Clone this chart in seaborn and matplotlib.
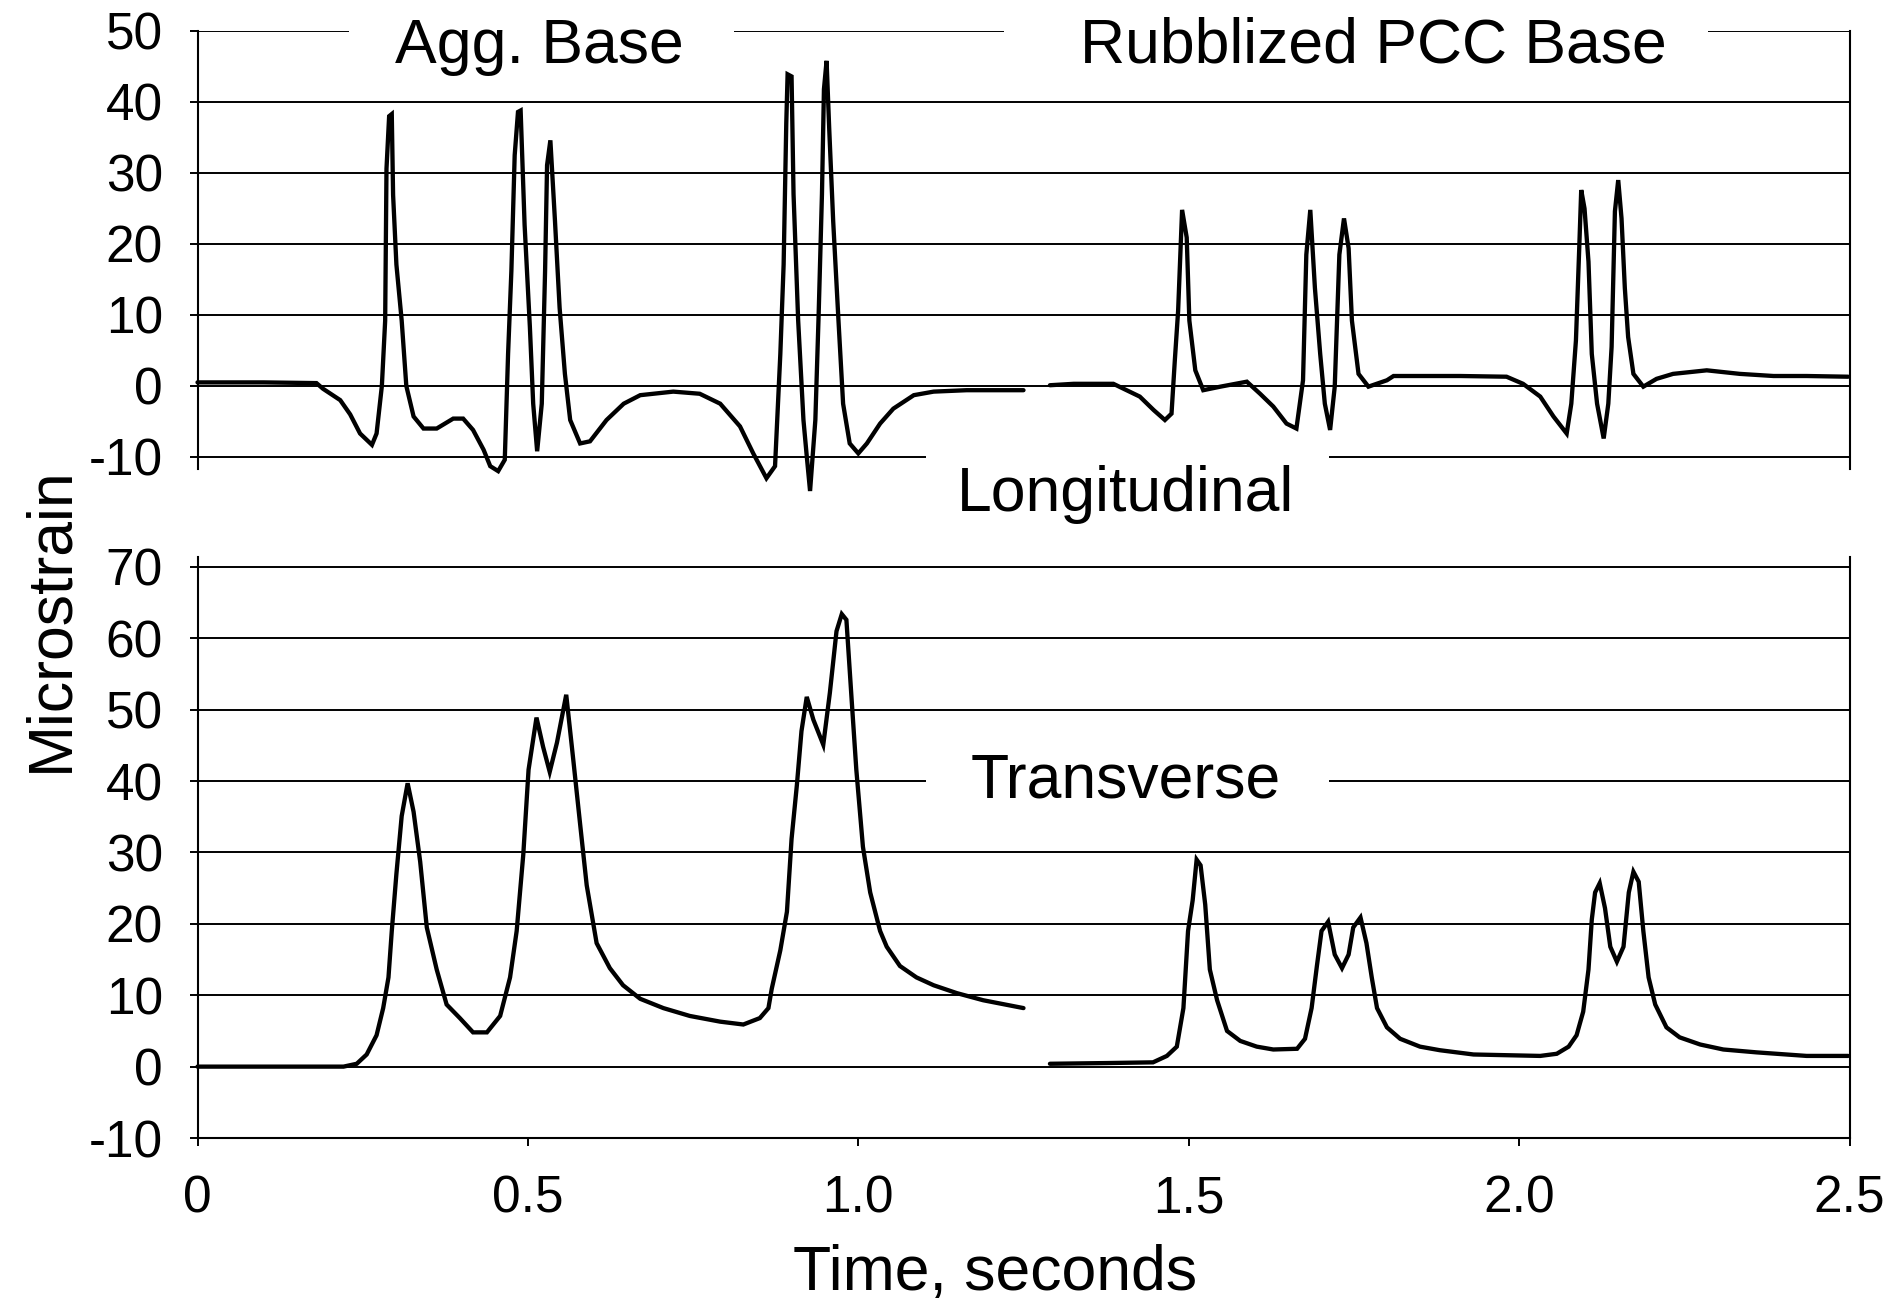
import matplotlib
matplotlib.use("Agg")
import matplotlib.pyplot as plt
import seaborn as sns
import pandas as pd
from matplotlib.patches import Rectangle

# ---------------- data ----------------
# Longitudinal strain, aggregate base section
agg_long_t = [0.00, 0.10, 0.18, 0.19, 0.216, 0.231, 0.246, 0.264, 0.271, 0.279, 0.284, 0.286,
              0.290, 0.294, 0.296, 0.301, 0.309, 0.316, 0.327, 0.342, 0.362, 0.387, 0.402, 0.417,
              0.433, 0.443, 0.455, 0.465, 0.470, 0.475, 0.480, 0.485, 0.489, 0.495, 0.503, 0.508,
              0.514, 0.521, 0.526, 0.529, 0.534, 0.541, 0.548, 0.556, 0.564, 0.579, 0.594, 0.619,
              0.645, 0.670, 0.720, 0.760, 0.791, 0.821, 0.841, 0.861, 0.874, 0.882, 0.887, 0.891,
              0.893, 0.899, 0.902, 0.909, 0.917, 0.922, 0.927, 0.935, 0.940, 0.945, 0.948, 0.952,
              0.956, 0.962, 0.970, 0.977, 0.987, 1.000, 1.013, 1.033, 1.053, 1.084, 1.114, 1.164,
              1.250]
agg_long_v = [0.5, 0.5, 0.4, -0.4, -2.0, -4.0, -6.7, -8.3, -6.7, 0.0, 9.2, 30.6,
              38.0, 38.3, 26.9, 17.1, 9.2, 0.0, -4.3, -6.0, -6.0, -4.6, -4.6, -6.2,
              -9.0, -11.3, -12.0, -10.4, 4.5, 16.2, 32.5, 38.6, 38.8, 22.7, 8.3, -2.5,
              -9.2, -2.5, 16.2, 31.1, 34.6, 23.2, 11.0, 1.7, -4.8, -8.1, -7.8, -4.8,
              -2.5, -1.3, -0.8, -1.1, -2.5, -5.7, -9.5, -13.0, -11.3, 4.5, 17.1, 37.0,
              43.9, 43.6, 27.0, 9.2, -4.8, -9.9, -14.8, -4.8, 10.1, 27.0, 41.8, 45.8,
              36.2, 23.2, 9.2, -2.5, -8.1, -9.5, -8.1, -5.3, -3.2, -1.3, -0.8, -0.6,
              -0.6]

# Longitudinal strain, rubblized PCC base section
rub_long_t = [1.290, 1.326, 1.386, 1.406, 1.426, 1.447, 1.464, 1.474, 1.479, 1.484, 1.490, 1.497,
              1.501, 1.510, 1.522, 1.548, 1.588, 1.608, 1.628, 1.648, 1.663, 1.673, 1.678, 1.684,
              1.691, 1.699, 1.706, 1.714, 1.721, 1.728, 1.735, 1.742, 1.747, 1.757, 1.772, 1.800,
              1.810, 1.911, 1.981, 2.006, 2.032, 2.052, 2.072, 2.079, 2.086, 2.091, 2.094, 2.099,
              2.105, 2.110, 2.118, 2.128, 2.135, 2.140, 2.145, 2.150, 2.155, 2.160, 2.165, 2.173,
              2.188, 2.208, 2.233, 2.284, 2.334, 2.385, 2.435, 2.498]
rub_long_v = [0.1, 0.3, 0.3, -0.6, -1.5, -3.4, -4.8, -3.9, 3.6, 10.6, 24.8, 20.9,
              9.2, 2.2, -0.6, -0.1, 0.6, -1.1, -2.9, -5.3, -6.0, 0.8, 18.5, 24.8,
              13.8, 4.5, -2.5, -6.2, -0.1, 18.5, 23.6, 19.4, 9.2, 1.7, -0.1, 0.8,
              1.4, 1.4, 1.3, 0.3, -1.5, -4.3, -6.7, -2.5, 6.4, 19.4, 27.6, 25.0,
              17.5, 4.5, -2.5, -7.4, -2.5, 5.5, 24.6, 29.0, 23.6, 13.8, 6.9, 1.7,
              -0.1, 1.0, 1.7, 2.2, 1.7, 1.4, 1.4, 1.3]

# Transverse strain, aggregate base section
agg_trans_t = [0.00, 0.10, 0.221, 0.241, 0.256, 0.271, 0.281, 0.289, 0.294, 0.301, 0.309, 0.318,
               0.327, 0.337, 0.347, 0.362, 0.377, 0.397, 0.417, 0.438, 0.458, 0.473, 0.483, 0.493,
               0.501, 0.513, 0.523, 0.533, 0.544, 0.558, 0.569, 0.579, 0.589, 0.604, 0.624, 0.644,
               0.670, 0.705, 0.745, 0.791, 0.826, 0.851, 0.864, 0.869, 0.882, 0.892, 0.899, 0.907,
               0.914, 0.922, 0.932, 0.947, 0.957, 0.967, 0.975, 0.982, 0.990, 0.997, 1.007, 1.018,
               1.033, 1.043, 1.063, 1.088, 1.114, 1.149, 1.189, 1.250]
agg_trans_v = [0.0, 0.0, 0.0, 0.4, 1.7, 4.4, 8.2, 12.5, 19.0, 27.0, 35.1, 39.7,
               35.7, 28.7, 19.5, 13.6, 8.7, 6.8, 4.8, 4.8, 7.1, 12.5, 19.0, 29.7,
               41.6, 48.9, 44.8, 41.3, 45.4, 52.1, 42.7, 34.0, 25.4, 17.3, 13.8, 11.4,
               9.5, 8.2, 7.1, 6.3, 5.9, 6.8, 8.2, 10.9, 16.3, 21.7, 31.9, 39.4,
               47.0, 51.8, 48.6, 45.1, 52.4, 61.0, 63.4, 62.6, 51.3, 41.6, 30.8, 24.4,
               19.0, 16.8, 14.1, 12.5, 11.4, 10.3, 9.3, 8.2]

# Transverse strain, rubblized PCC base section
rub_trans_t = [1.290, 1.376, 1.446, 1.467, 1.482, 1.492, 1.499, 1.506, 1.512, 1.518, 1.525, 1.532,
               1.543, 1.558, 1.578, 1.603, 1.628, 1.664, 1.676, 1.686, 1.694, 1.701, 1.711, 1.721,
               1.732, 1.742, 1.749, 1.760, 1.769, 1.777, 1.785, 1.800, 1.820, 1.850, 1.880, 1.931,
               1.981, 2.032, 2.057, 2.075, 2.087, 2.097, 2.105, 2.110, 2.115, 2.122, 2.130, 2.138,
               2.148, 2.158, 2.166, 2.173, 2.181, 2.188, 2.196, 2.206, 2.223, 2.243, 2.274, 2.309,
               2.359, 2.435, 2.498]
rub_trans_v = [0.4, 0.5, 0.6, 1.5, 2.8, 8.2, 19.0, 23.3, 29.0, 28.2, 22.7, 13.6,
               9.3, 5.0, 3.6, 2.8, 2.4, 2.5, 3.9, 8.2, 14.1, 19.0, 20.3, 15.7,
               13.8, 15.7, 19.5, 20.9, 17.3, 12.5, 8.2, 5.5, 3.9, 2.8, 2.3, 1.7,
               1.6, 1.5, 1.8, 2.8, 4.4, 7.7, 13.6, 20.6, 24.4, 25.7, 22.2, 16.8,
               14.7, 16.8, 24.4, 27.3, 25.9, 19.0, 12.5, 8.7, 5.5, 4.1, 3.1, 2.4,
               2.0, 1.5, 1.5]

top_yticks = [-10, 0, 10, 20, 30, 40, 50]
bot_yticks = [-10, 0, 10, 20, 30, 40, 50, 60, 70]
x_ticks = [0, 0.5, 1.0, 1.5, 2.0, 2.5]
x_ticklabels = ["0", "0.5", "1.0", "1.5", "2.0", "2.5"]

# ---------------- figure ----------------
sns.set_theme(style="white")
plt.rcParams["font.family"] = ["Liberation Sans", "DejaVu Sans"]
plt.rcParams["axes.unicode_minus"] = False

W, H = 1886, 1305
fig = plt.figure(figsize=(W / 100, H / 100), dpi=100)
fig.patch.set_facecolor("white")


def rect_frac(x0, y0, x1, y1):
    """pixel box (top-left origin) -> figure fraction [l, b, w, h]"""
    return [x0 / W, 1 - y1 / H, (x1 - x0) / W, (y1 - y0) / H]


ax1 = fig.add_axes(rect_frac(197.5, 31, 1849.5, 469))
ax2 = fig.add_axes(rect_frac(197.5, 557, 1849.5, 1138))

LW = 3.1
for ax, segs in ((ax1, [(agg_long_t, agg_long_v), (rub_long_t, rub_long_v)]),
                 (ax2, [(agg_trans_t, agg_trans_v), (rub_trans_t, rub_trans_v)])):
    for t, v in segs:
        df = pd.DataFrame({"t": t, "v": v})
        sns.lineplot(data=df, x="t", y="v", ax=ax, color="black", linewidth=LW,
                     sort=False, estimator=None, legend=False)
    for ln in ax.lines:
        ln.set_clip_on(False)
        ln.set_solid_joinstyle("miter")
    ax.set_facecolor("white")
    ax.set_xlim(0, 2.5)
    ax.set_xlabel("")
    ax.set_ylabel("")
    ax.yaxis.grid(True, color="black", linewidth=1.4)
    ax.xaxis.grid(False)
    ax.set_axisbelow(True)
    for side in ("left", "right", "bottom", "top"):
        ax.spines[side].set_color("black")
        ax.spines[side].set_linewidth(1.5)
    ax.spines["top"].set_visible(False)
    ax.tick_params(axis="both", which="both", direction="out", length=6, width=1.4,
                   colors="black", labelsize=37, left=True, bottom=True)
    ax.tick_params(axis="y", pad=19)

# top panel
ax1.set_ylim(-11.7, 50)
ax1.set_yticks(top_yticks)
ax1.set_yticklabels([str(v) for v in top_yticks])
ax1.set_xticks([])
ax1.spines["bottom"].set_visible(False)

# bottom panel
ax2.set_ylim(-10, 71.4)
ax2.set_yticks(bot_yticks)
ax2.set_yticklabels([str(v) for v in bot_yticks])
ax2.set_xticks(x_ticks)
ax2.set_xticklabels(x_ticklabels)
ax2.tick_params(axis="x", pad=20)

# white label boxes that interrupt the gridlines
for (x0, y0, x1, y1) in [(349, 0, 734, 85), (1004, 0, 1708, 85),
                         (926, 441, 1329, 535), (926, 742, 1329, 822)]:
    l, b, w, h = rect_frac(x0, y0, x1, y1)
    fig.add_artist(Rectangle((l, b), w, h, transform=fig.transFigure,
                             facecolor="white", edgecolor="none", zorder=5))

FS = 45
labels = [("Agg. Base", 539.5, 62.5), ("Rubblized PCC Base", 1373, 62.5),
          ("Longitudinal", 1126, 511), ("Transverse", 1126, 797.5)]
for s, x, y in labels:
    fig.text(x / W, 1 - y / H, s, ha="center", va="baseline", fontsize=FS,
             color="black", zorder=6)

fig.text(995 / W, 1 - 1290.5 / H, "Time, seconds", ha="center", va="baseline",
         fontsize=FS, color="black", zorder=6)
fig.text(67 / W, 1 - 619 / H, "Microstrain", ha="center", va="baseline",
         rotation=90, rotation_mode="anchor", fontsize=FS, color="black", zorder=6)

fig.savefig("out.png", dpi=100, facecolor="white")
